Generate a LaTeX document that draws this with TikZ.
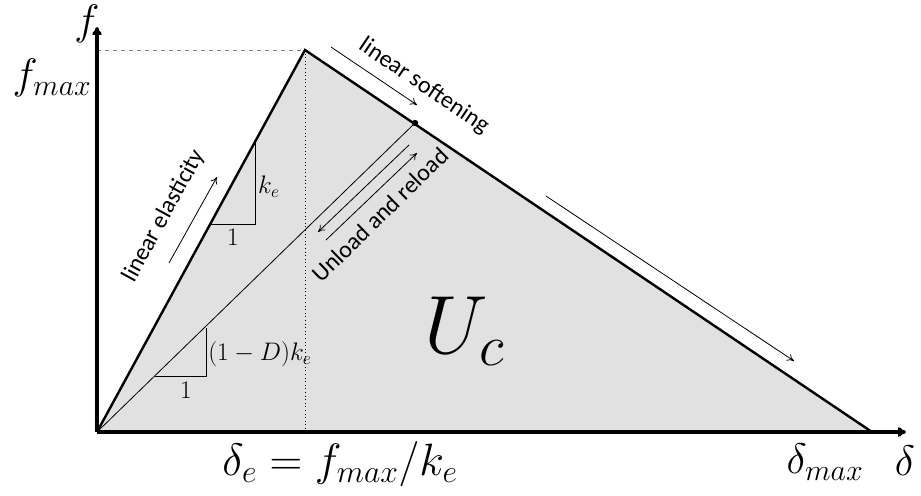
\RequirePackage{fix-cm}
\documentclass[tikz,border=0pt]{standalone}
\usepackage{fontspec}
\setmainfont{Carlito}
\usepackage{amsmath}
\usetikzlibrary{arrows.meta}
\definecolor{areagray}{RGB}{225,225,225}

\begin{document}
\begin{tikzpicture}[x=0.75pt, y=-0.75pt,
  axis/.style={-{To[length=2.2mm, width=2.6mm]}, line width=2.3pt},
  law/.style={line width=1.8pt},
  thinln/.style={line width=0.6pt},
  note/.style={-{To[length=1.8mm, width=2mm]}, line width=0.6pt},
  lbl/.style={font=\fontsize{18}{20}\selectfont, inner sep=0pt},
  mlbl/.style={font=\fontsize{32}{34}\selectfont, inner sep=0pt},
  slbl/.style={font=\fontsize{19}{21}\selectfont, inner sep=0pt},
]
  \useasboundingbox (0,0) rectangle (921,496);

  % Points of the law
  \coordinate (O) at (97,432);
  \coordinate (P) at (305,50);
  \coordinate (E) at (872,432);
  \coordinate (D) at (415,123);
  \coordinate (fm) at (97,50);
  \coordinate (pb) at (305,432);
  \coordinate (ytip) at (97,27);
  \coordinate (xtip) at (906,432);

  % Dissipated energy
  \fill[areagray] (O) -- (P) -- (E) -- cycle;
  \node[font=\fontsize{62}{64}\selectfont, inner sep=0pt] (uc) at (465,331) {$U_c$};

  % Guides
  \draw[gray, dashed, line width=0.7pt] (fm) -- (P);
  \draw[dotted, line width=0.7pt] (P) -- (pb);

  % Axes
  \draw[axis] (O) -- (ytip);
  \draw[axis] (O) -- (xtip);
  \node[mlbl] (flbl) at (87,24) {$f$};
  \node[mlbl] (fmax) at (52,78) {$f_{max}$};
  \node[mlbl] (dlbl) at (905,461) {$\delta$};
  \node[mlbl] (dmax) at (825,462) {$\delta_{max}$};
  \node[mlbl, font=\fontsize{34}{36}\selectfont] (dele) at (340,464) {$\delta_e = f_{max}/k_e$};

  % Bilinear law
  \draw[law] (O) -- (P) -- (E);
  \draw[thinln] (O) -- (D);
  \fill (D) circle (3.2);

  % Slope triangles
  \coordinate (a1) at (211,224);
  \coordinate (a2) at (255,224);
  \coordinate (a3) at (255,143);
  \draw[thinln] (a1) -- (a2) -- (a3);
  \node[slbl] (ke) at (269,187) {$k_e$};
  \node[slbl] (one1) at (233,237) {$1$};
  \coordinate (b1) at (155,376);
  \coordinate (b2) at (206,376);
  \coordinate (b3) at (206,328);
  \draw[thinln] (b1) -- (b2) -- (b3);
  \node[slbl, anchor=west] (kd) at (208,354) {$(1-D)k_e$};
  \node[slbl] (one2) at (186,390) {$1$};

  % Loading paths
  \coordinate (e1) at (169,263);
  \coordinate (e2) at (217,177);
  \draw[note] (e1) -- (e2);
  \node[lbl, rotate=61.4] (elas) at (164,216) {linear elasticity};
  \coordinate (s1) at (331,47);
  \coordinate (s2) at (417,105);
  \draw[note] (s1) -- (s2);
  \node[lbl, rotate=-34] (soft) at (424,86) {linear softening};
  \coordinate (u1) at (409,145);
  \coordinate (u2) at (318,232);
  \coordinate (r1) at (326,240);
  \coordinate (r2) at (417,153);
  \draw[note] (u1) -- (u2);
  \draw[note] (r1) -- (r2);
  \node[lbl, rotate=44.2] (unl) at (380,215) {Unload and reload};
  \coordinate (t1) at (546,196);
  \coordinate (t2) at (794,361);
  \draw[note] (t1) -- (t2);
\end{tikzpicture}
\end{document}
